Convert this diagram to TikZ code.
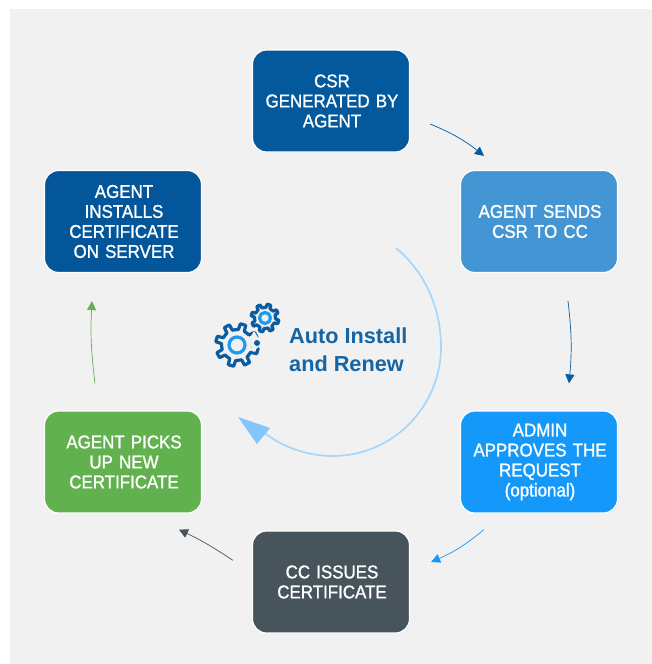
\documentclass[tikz,border=0pt]{standalone}
\usepackage{fontspec}
\setmainfont{Liberation Sans}
\newfontfamily\boxfont[FakeStretch=0.915,FakeBold=1.2]{Liberation Sans}
\newfontfamily\titlefont{Liberation Sans Bold}
\definecolor{bgc}{HTML}{F1F1F1}
\definecolor{cdark}{HTML}{03599C}
\definecolor{cmid}{HTML}{4396D3}
\definecolor{cbright}{HTML}{1499FB}
\definecolor{cslate}{HTML}{47545C}
\definecolor{cgreen}{HTML}{62B14F}
\definecolor{cinstall}{HTML}{03569A}
\definecolor{carc}{HTML}{A6D7FA}
\definecolor{chead}{HTML}{84C6FB}
\definecolor{cgear}{HTML}{0B5C9E}
\definecolor{cring}{HTML}{1E9BF0}
\definecolor{ctitle}{HTML}{1565A5}
\usetikzlibrary{arrows.meta}
\tikzset{
  stage/.style={draw=white,line width=1.2pt,rounded corners=14pt,minimum width=157pt,minimum height=102pt,
    inner sep=0pt,text=white,text width=157pt,align=center,font=\boxfont\fontsize{18.5}{20}\selectfont,
    execute at begin node={\advance\leftskip by 2pt\relax}},
  link/.style={line width=0.7pt,-{Triangle[length=9pt,width=9pt]}},
  gearline/.style={cgear,line width=3.2pt,line join=round},
  title/.style={anchor=base west,inner sep=0pt,text=ctitle,font=\titlefont\fontsize{21.7}{22}\selectfont},
  pics/gear/.style n args={3}{code={
    \draw[gearline] (0:#2)
      \foreach \a in {0,45,...,315}{
        -- (\a+5:#2) -- (\a+9:#1) -- (\a+24:#1) -- (\a+28:#2) -- (\a+45:#2)
      } -- cycle;
    \draw[cring,line width=3.2pt] (0,0) circle[radius=#3];
  }}
}
\begin{document}
\begin{tikzpicture}[x=1pt,y=-1pt]
\useasboundingbox (0,0) rectangle (652,664);
\fill[bgc] (10,9) rectangle (652,664);

\node[stage,fill=cdark]    (csr)     at (331,101)   {CSR\\GENERATED BY\\AGENT};
\node[stage,fill=cmid]     (send)    at (539,221.5) {AGENT SENDS\\CSR TO CC};
\node[stage,fill=cbright]  (admin)   at (539,462)   {ADMIN\\APPROVES THE\\REQUEST\\(optional)};
\node[stage,fill=cslate]   (issue)   at (331,582)   {CC ISSUES\\CERTIFICATE};
\node[stage,fill=cgreen]   (pick)    at (123,462)   {AGENT PICKS\\UP NEW\\CERTIFICATE};
\node[stage,fill=cinstall] (install) at (123,221.5) {AGENT\\INSTALLS\\CERTIFICATE\\ON SERVER};

% connectors, floating clear of their boxes
\draw[link,cdark]   ([shift={(20,23)}]csr.east) to[bend left=8] ([shift={(-55,-14)}]send.north);
\draw[link,cgear]   ([shift={(29,28)}]send.south) to[bend left=6] ([shift={(30,-27)}]admin.north);
\draw[link,cbright] ([shift={(-55,16)}]admin.south) to[bend left=8] ([shift={(21,-20)}]issue.east);
\draw[link,cslate]  ([shift={(-98,30)}]issue.north) to[bend right=4] ([shift={(56,16)}]pick.south);
\draw[link,cgreen]  ([shift={(-28,-27)}]pick.north) to[bend left=5] ([shift={(-31,28)}]install.south);

% central cycle arrow
\coordinate (arcstart) at (396,248);
\coordinate (arcend) at (262,431);
\draw[carc,line width=1.7pt] (arcstart)
  .. controls (425,272) and (441,308) .. (441,347)
  .. controls (441,407) and (392,456) .. (333,456)
  .. controls (307,456) and (282,447) .. (arcend);
\fill[chead] (238,417) -- (270,428) -- (257,444) -- cycle;

% gears
\pic at (237,345) {gear={21.5}{15.5}{8}};
\pic at (265,318) {gear={14}{10.5}{5.5}};
\fill[bgc] (254,331) -- (262,344) -- (253,352) -- (249,340) -- cycle;
\fill[cgear] (257,343) circle[radius=3];

\node[title] (auto) at (289,343) {Auto Install};
\node[title] (renew) at (289,371) {and Renew};
\end{tikzpicture}
\end{document}
